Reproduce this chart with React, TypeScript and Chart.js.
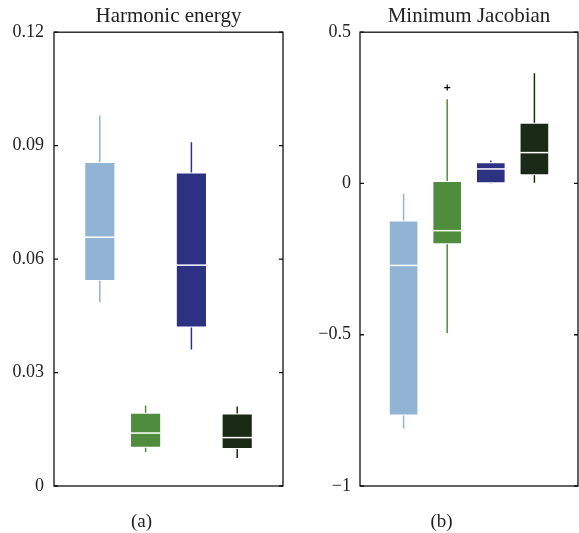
import React, { useEffect, useRef } from "react";
import { Chart, registerables } from "chart.js";

Chart.register(...registerables);

// ---- data ----
const groups = ["Group 1", "Group 2", "Group 3", "Group 4"];
const boxColors = ["#92b4d4", "#4f8c3e", "#2d3181", "#1b2a16"];

// Harmonic energy (a)
const energyWhiskerHigh = [0.098, 0.0213, 0.0909, 0.021];
const energyQ3 = [0.0857, 0.0194, 0.0829, 0.0192];
const energyMedian = [0.0658, 0.014, 0.0584, 0.0128];
const energyQ1 = [0.0542, 0.0101, 0.0419, 0.0098];
const energyWhiskerLow = [0.0486, 0.009, 0.0361, 0.0074];
const energyOutliers: number[][] = [[], [], [], []];
const energyTicks = [0, 0.03, 0.06, 0.09, 0.12];
const energyTickLabels = ["0", "0.03", "0.06", "0.09", "0.12"];

// Minimum Jacobian (b)
const jacobianWhiskerHigh = [-0.034, 0.278, 0.076, 0.364];
const jacobianQ3 = [-0.122, 0.008, 0.07, 0.201];
const jacobianMedian = [-0.271, -0.156, 0.048, 0.102];
const jacobianQ1 = [-0.767, -0.201, 0.001, 0.027];
const jacobianWhiskerLow = [-0.81, -0.494, 0.0, 0.002];
const jacobianOutliers: number[][] = [[], [0.317], [], []];
const jacobianTicks = [-1, -0.5, 0, 0.5];
const jacobianTickLabels = ["\u22121", "\u22120.5", "0", "0.5"];

const FONT = "'Liberation Serif', 'Times New Roman', serif";
const TEXT = "#222222";

type PanelProps = {
  title: string;
  caption: string;
  low: number[];
  q1: number[];
  med: number[];
  q3: number[];
  high: number[];
  outliers: number[][];
  ticks: number[];
  tickLabels: string[];
  min: number;
  max: number;
  width: number;
  height: number;
  left: number;
  axisWidth: number;
  labelPad: number;
  padRight: number;
};

function BoxPanel(p: PanelProps) {
  const ref = useRef<HTMLCanvasElement>(null);
  useEffect(() => {
    if (!ref.current) return;
    const labels = ["", ...groups, ""];
    const boxData = [null, ...p.q1.map((v, i) => [v, p.q3[i]]), null];
    const bg = ["rgba(0,0,0,0)", ...boxColors, "rgba(0,0,0,0)"];

    const plugin = {
      id: "boxplotExtras",
      beforeDatasetsDraw(chart: any) {
        const ctx = chart.ctx;
        const xs = chart.scales.x;
        const ys = chart.scales.y;
        ctx.save();
        ctx.lineWidth = 1.5;
        groups.forEach((_, i) => {
          const x = xs.getPixelForValue(i + 1);
          ctx.strokeStyle = boxColors[i];
          ctx.beginPath();
          ctx.moveTo(x, ys.getPixelForValue(p.low[i]));
          ctx.lineTo(x, ys.getPixelForValue(p.q1[i]));
          ctx.moveTo(x, ys.getPixelForValue(p.q3[i]));
          ctx.lineTo(x, ys.getPixelForValue(p.high[i]));
          ctx.stroke();
        });
        ctx.restore();
      },
      afterDatasetsDraw(chart: any) {
        const ctx = chart.ctx;
        const xs = chart.scales.x;
        const ys = chart.scales.y;
        const meta = chart.getDatasetMeta(0);
        ctx.save();
        groups.forEach((_, i) => {
          const x = xs.getPixelForValue(i + 1);
          const bar = meta.data[i + 1];
          const w = bar ? bar.width : 30;
          const y = ys.getPixelForValue(p.med[i]);
          ctx.strokeStyle = "#ffffff";
          ctx.lineWidth = 1.5;
          ctx.beginPath();
          ctx.moveTo(x - w / 2 + 0.5, y);
          ctx.lineTo(x + w / 2 - 0.5, y);
          ctx.stroke();
          ctx.strokeStyle = "#000000";
          ctx.lineWidth = 1.2;
          p.outliers[i].forEach((v) => {
            const oy = ys.getPixelForValue(v);
            ctx.beginPath();
            ctx.moveTo(x - 3, oy);
            ctx.lineTo(x + 3, oy);
            ctx.moveTo(x, oy - 3);
            ctx.lineTo(x, oy + 3);
            ctx.stroke();
          });
        });
        ctx.restore();
      },
      afterDraw(chart: any) {
        const ctx = chart.ctx;
        const a = chart.chartArea;
        const ys = chart.scales.y;
        ctx.save();
        ctx.strokeStyle = "#111111";
        ctx.lineWidth = 1.3;
        ctx.strokeRect(a.left, a.top, a.right - a.left, a.bottom - a.top);
        ctx.beginPath();
        p.ticks.forEach((v) => {
          const y = ys.getPixelForValue(v);
          ctx.moveTo(a.left, y);
          ctx.lineTo(a.left + 4, y);
          ctx.moveTo(a.right, y);
          ctx.lineTo(a.right - 4, y);
        });
        ctx.stroke();
        ctx.restore();
      },
    };

    const chart = new Chart(ref.current, {
      type: "bar",
      data: {
        labels,
        datasets: [
          {
            data: boxData as any,
            backgroundColor: bg,
            borderColor: "rgba(255,255,255,0.45)",
            borderWidth: 1,
            borderSkipped: false,
            categoryPercentage: 1,
            barPercentage: 0.68,
          },
        ],
      },
      options: {
        responsive: false,
        animation: false,
        layout: { padding: { left: 0, right: p.padRight, top: 0, bottom: 0 } },
        plugins: {
          legend: { display: false },
          tooltip: { enabled: false },
          title: {
            display: true,
            text: p.title,
            fullSize: false,
            color: TEXT,
            font: { family: FONT, size: 21, weight: "normal", lineHeight: 1.2 },
            padding: { top: 4, bottom: 3 },
          },
          subtitle: {
            display: true,
            text: p.caption,
            position: "bottom",
            color: TEXT,
            font: { family: FONT, size: 19, weight: "normal", lineHeight: 1 },
            padding: { top: 27, bottom: 1 },
          },
        },
        scales: {
          x: { type: "category", offset: false, display: false },
          y: {
            min: p.min,
            max: p.max,
            afterFit: (s: any) => {
              s.width = p.axisWidth;
            },
            afterBuildTicks: (s: any) => {
              s.ticks = p.ticks.map((v) => ({ value: v }));
            },
            grid: { display: false, drawTicks: false },
            border: { display: false },
            ticks: {
              padding: p.labelPad,
              color: TEXT,
              font: { family: FONT, size: 18 },
              callback: (_v: any, i: number) => p.tickLabels[i],
            },
          },
        },
      } as any,
      plugins: [plugin],
    });
    return () => chart.destroy();
  }, []);

  return (
    <canvas
      ref={ref}
      width={p.width}
      height={p.height}
      style={{ position: "absolute", left: p.left, top: 0, width: p.width, height: p.height, display: "block" }}
    />
  );
}

export default function App() {
  return (
    <div style={{ position: "absolute", left: 0, top: 0, width: 579, height: 533, background: "#ffffff" }}>
      <BoxPanel
        title="Harmonic energy"
        caption="(a)"
        low={energyWhiskerLow}
        q1={energyQ1}
        med={energyMedian}
        q3={energyQ3}
        high={energyWhiskerHigh}
        outliers={energyOutliers}
        ticks={energyTicks}
        tickLabels={energyTickLabels}
        min={0}
        max={0.12}
        width={285}
        height={533}
        left={0}
        axisWidth={54}
        labelPad={10}
        padRight={2}
      />
      <BoxPanel
        title="Minimum Jacobian"
        caption="(b)"
        low={jacobianWhiskerLow}
        q1={jacobianQ1}
        med={jacobianMedian}
        q3={jacobianQ3}
        high={jacobianWhiskerHigh}
        outliers={jacobianOutliers}
        ticks={jacobianTicks}
        tickLabels={jacobianTickLabels}
        min={-1}
        max={0.5}
        width={274}
        height={533}
        left={305}
        axisWidth={55}
        labelPad={9}
        padRight={1}
      />
    </div>
  );
}
